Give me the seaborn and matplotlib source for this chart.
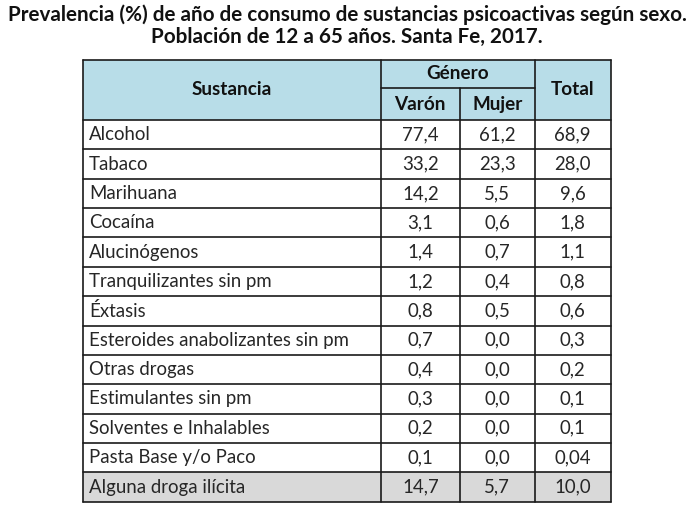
import matplotlib
matplotlib.use("Agg")
import matplotlib.pyplot as plt
import seaborn as sns
from matplotlib.patches import Rectangle

sns.set_theme(style="white")
plt.rcParams['font.family'] = ['Lato', 'DejaVu Sans']

title_lines = ["Prevalencia (%) de año de consumo de sustancias psicoactivas según sexo.",
               "Población de 12 a 65 años. Santa Fe, 2017."]
header_main = ["Sustancia", "Género", "Total"]
header_sub = ["Varón", "Mujer"]
sustancias = ["Alcohol", "Tabaco", "Marihuana", "Cocaína", "Alucinógenos",
              "Tranquilizantes sin pm", "Éxtasis", "Esteroides anabolizantes sin pm",
              "Otras drogas", "Estimulantes sin pm", "Solventes e Inhalables",
              "Pasta Base y/o Paco", "Alguna droga ilícita"]
varon = ["77,4", "33,2", "14,2", "3,1", "1,4", "1,2", "0,8", "0,7", "0,4", "0,3", "0,2", "0,1", "14,7"]
mujer = ["61,2", "23,3", "5,5", "0,6", "0,7", "0,4", "0,5", "0,0", "0,0", "0,0", "0,0", "0,0", "5,7"]
total = ["68,9", "28,0", "9,6", "1,8", "1,1", "0,8", "0,6", "0,3", "0,2", "0,1", "0,1", "0,04", "10,0"]

# layout (pixels)
W, H = 693, 509
col_edges = [82.5, 380.7, 460.0, 534.5, 610.5]
y_top, y_mid, y_head = 59.5, 88.3, 120.0
y_bottom = 501.7
n = len(sustancias)
row_h = (y_bottom - y_head) / n

head_color = "#B8DDE8"
grey_color = "#D9D9D9"
line_color = "#1a1a1a"
text_color = "#262626"

fig = plt.figure(figsize=(W / 100, H / 100), dpi=100)
ax = fig.add_axes([0, 0, 1, 1])
ax.set_xlim(0, W)
ax.set_ylim(H, 0)
ax.axis("off")

# title
tfs = 14.9
ax.text(W / 2 + 0.5, 15, title_lines[0], ha="center", va="center", fontsize=tfs,
        fontweight="bold", color="#111111")
ax.text(W / 2 + 0.5, 36.5, title_lines[1], ha="center", va="center", fontsize=tfs,
        fontweight="bold", color="#111111")

# header background
ax.add_patch(Rectangle((col_edges[0], y_top), col_edges[-1] - col_edges[0], y_head - y_top,
                       facecolor=head_color, edgecolor="none"))
# grey last row
ax.add_patch(Rectangle((col_edges[0], y_head + (n - 1) * row_h), col_edges[-1] - col_edges[0], row_h,
                       facecolor=grey_color, edgecolor="none"))

lw = 1.2
# horizontal lines
ax.plot([col_edges[0], col_edges[-1]], [y_top, y_top], color=line_color, lw=lw)
ax.plot([col_edges[1], col_edges[3]], [y_mid, y_mid], color=line_color, lw=lw)
for i in range(n + 1):
    y = y_head + i * row_h
    ax.plot([col_edges[0], col_edges[-1]], [y, y], color=line_color, lw=lw)
# vertical lines
for j, x in enumerate(col_edges):
    if j == 2:
        ax.plot([x, x], [y_mid, y_bottom], color=line_color, lw=lw)
    else:
        ax.plot([x, x], [y_top, y_bottom], color=line_color, lw=lw)

hfs = 13.6
bfs = 13.4
ax.text((col_edges[0] + col_edges[1]) / 2, (y_top + y_head) / 2, header_main[0],
        ha="center", va="center", fontsize=hfs, fontweight="bold", color="#111111")
ax.text((col_edges[1] + col_edges[3]) / 2, (y_top + y_mid) / 2, header_main[1],
        ha="center", va="center", fontsize=hfs, fontweight="bold", color="#111111")
ax.text((col_edges[3] + col_edges[4]) / 2, (y_top + y_head) / 2, header_main[2],
        ha="center", va="center", fontsize=hfs, fontweight="bold", color="#111111")
for j, s in enumerate(header_sub):
    ax.text((col_edges[1 + j] + col_edges[2 + j]) / 2, (y_mid + y_head) / 2, s,
            ha="center", va="center", fontsize=hfs, fontweight="bold", color="#111111")

for i in range(n):
    yc = y_head + (i + 0.5) * row_h
    ax.text(col_edges[0] + 6.5, yc, sustancias[i], ha="left", va="center",
            fontsize=bfs, color=text_color)
    for j, vals in enumerate([varon, mujer, total]):
        ax.text((col_edges[1 + j] + col_edges[2 + j]) / 2, yc, vals[i], ha="center",
                va="center", fontsize=bfs, color=text_color)

fig.savefig("out.png", dpi=100)
